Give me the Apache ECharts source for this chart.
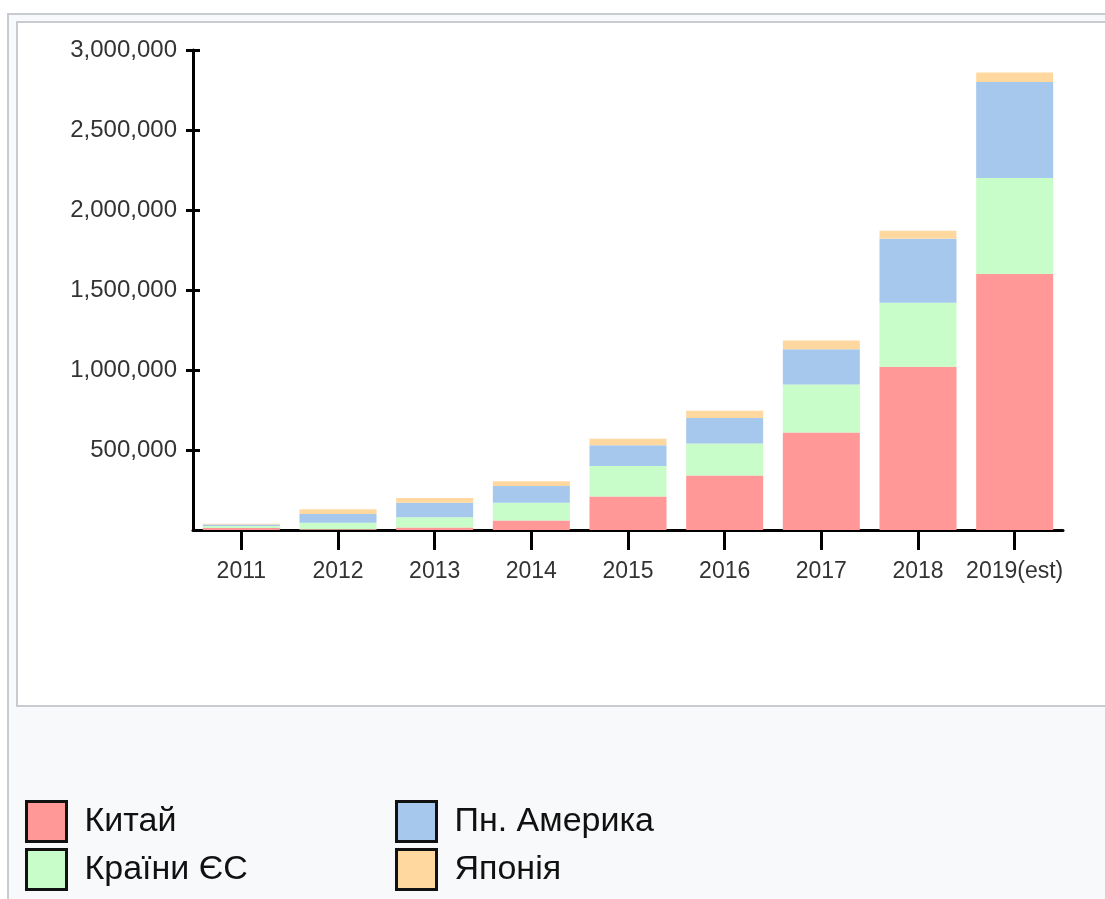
<!DOCTYPE html>
<html>
<head>
<meta charset="utf-8">
<script src="https://cdn.jsdelivr.net/npm/echarts@6/dist/echarts.min.js"></script>
<style>
html,body{margin:0;padding:0;background:#fff;}
#chart{width:1105px;height:899px;}
</style>
</head>
<body>
<div id="chart"></div>
<script>
var categories = ['2011','2012','2013','2014','2015','2016','2017','2018','2019(est)'];
var china = [12000, 5000, 15000, 60000, 210000, 340000, 610000, 1020000, 1600000];
var eu    = [13000, 40000, 65000, 110000, 190000, 200000, 300000, 400000, 600000];
var na    = [10000, 55000, 90000, 105000, 130000, 160000, 220000, 400000, 600000];
var japan = [4000, 30000, 30000, 30000, 40000, 45000, 55000, 50000, 60000];
var seriesNames = ['Китай', 'Країни ЄС', 'Пн. Америка', 'Японія'];
var colors = ['#ff9896', '#c8fcc8', '#a6c8ec', '#ffd8a0'];

var chart = echarts.init(document.getElementById('chart'));
var font = 'Liberation Sans, Arial, sans-serif';
function mk(i, data){
  return {name: seriesNames[i], type:'bar', stack:'total', data:data, barWidth:77,
    itemStyle:{color:colors[i]}, xAxisIndex:0, yAxisIndex:0};
}
function lg(name, left, top){
  return {
    left:left, top:top, padding:0, orient:'horizontal', icon:'rect', itemWidth:40, itemHeight:40,
    itemStyle:{borderColor:'#111', borderWidth:3},
    textStyle:{fontFamily:font, fontSize:34, color:'#111', padding:[4,0,0,13]},
    selectedMode:false, data:[name]
  };
}
chart.setOption({
  animation:false,
  color: colors,
  graphic:{ z:-10, elements:[
    {type:'rect', z:-10, shape:{x:8, y:14, width:1200, height:1000}, style:{fill:'#f8f9fa', stroke:'#c8ccd1', lineWidth:2}},
    {type:'rect', z:-9, shape:{x:17, y:22, width:1200, height:684}, style:{fill:'#ffffff', stroke:'#c8ccd1', lineWidth:2}}
  ]},
  legend:[
    lg(seriesNames[0], 25, 800),
    lg(seriesNames[1], 25, 848),
    lg(seriesNames[2], 395, 800),
    lg(seriesNames[3], 395, 848)
  ],
  grid:{left:193, right:42, top:50, bottom:369, containLabel:false},
  xAxis:{
    type:'category', data:categories,
    axisLine:{show:true, lineStyle:{color:'#000', width:3}},
    axisTick:{show:true, alignWithLabel:true, length:20, interval:0, lineStyle:{color:'#000', width:3}},
    axisLabel:{fontFamily:font, fontSize:23, color:'#333', margin:30, interval:0}
  },
  yAxis:[{
    type:'value', min:0, max:3000000, interval:500000,
    splitLine:{show:false},
    axisLine:{show:true, lineStyle:{color:'#000', width:3}},
    axisTick:{show:true, length:7, lineStyle:{color:'#000', width:3}},
    axisLabel:{fontFamily:font, fontSize:24, color:'#333', margin:16, showMinLabel:false,
      formatter:function(v){ return v.toLocaleString('en-US'); }}
  },{
    type:'value', min:0, max:3000000, interval:500000, position:'left',
    splitLine:{show:false},
    axisLine:{show:false},
    axisTick:{show:true, inside:true, length:7, lineStyle:{color:'#000', width:3}},
    axisLabel:{show:false}
  }],
  series:[mk(0, china), mk(1, eu), mk(2, na), mk(3, japan)]
});
</script>
</body>
</html>
